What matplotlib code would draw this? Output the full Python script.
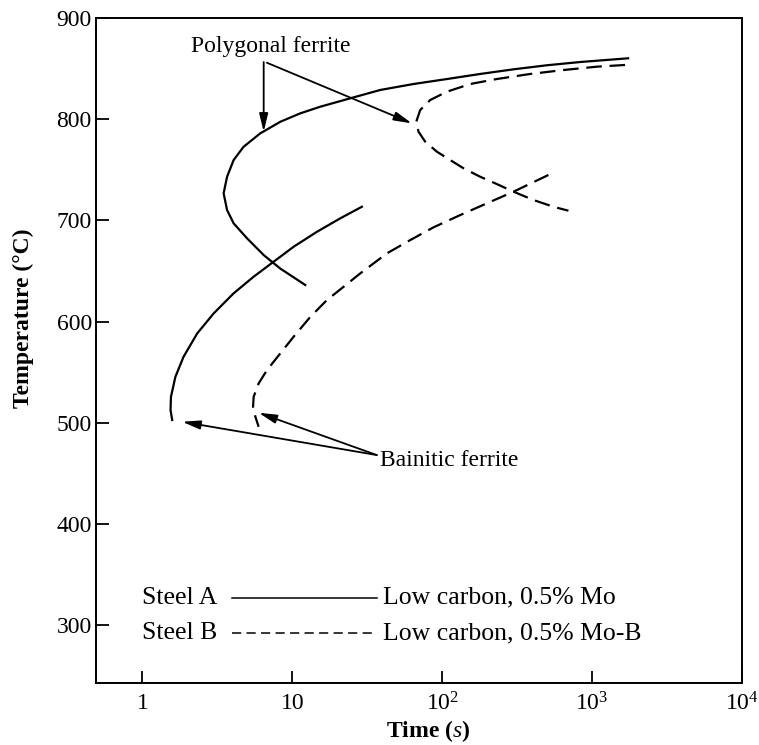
import numpy as np
import matplotlib
matplotlib.use("Agg")
import matplotlib.pyplot as plt
from matplotlib.lines import Line2D

plt.rcParams['font.family'] = ['Liberation Serif', 'DejaVu Serif']
plt.rcParams['mathtext.fontset'] = 'custom'
plt.rcParams['mathtext.rm'] = 'Liberation Serif'
plt.rcParams['mathtext.it'] = 'Liberation Serif:italic'

# === Data (time in s, temperature in degC) ===
# Steel A, polygonal ferrite start curve
ferrite_a_time = [1738, 832, 499, 299, 179, 107.5, 64.4, 38.6, 24.4, 15.4, 11.3, 8.32,
                  6.12, 4.73, 4.06, 3.67, 3.48, 3.67, 4.06, 4.99, 6.44, 8.32, 10.2, 12.2]
ferrite_a_temp = [860.2, 856.5, 853.3, 849.3, 844.7, 839.7, 834.8, 828.9, 820.7, 812.4,
                  805.8, 797.5, 786.1, 772.8, 759.7, 743.2, 726.8, 710.3, 697.1, 682.3,
                  665.8, 652.4, 643.8, 636.2]
# Steel A, bainitic ferrite start curve
bainite_a_time = [29.1, 20.9, 14.6, 10.2, 7.5, 5.52, 4.06, 2.99, 2.32, 1.88, 1.66,
                  1.55, 1.54, 1.58]
bainite_a_temp = [713.5, 702.1, 688.8, 674.0, 659.2, 644.4, 628.0, 608.2, 588.4, 565.3,
                  545.6, 525.8, 512.6, 502.8]
# Steel B, polygonal ferrite start curve
ferrite_b_time = [1660, 1075, 644, 386, 231, 154, 107.5, 83.2, 71.3, 67.1, 69.5, 77.0,
                  92.2, 113, 138.7, 179, 231, 299, 406, 552, 695]
ferrite_b_temp = [853.6, 851.9, 848.6, 844.7, 839.7, 834.8, 827.2, 819.0, 809.1, 797.5,
                  787.6, 777.8, 767.9, 759.7, 751.5, 743.2, 736.0, 728.4, 720.2, 713.5,
                  709.6]
# Steel B, bainitic ferrite start curve
bainite_b_time = [511, 299, 198.6, 131.8, 87.5, 61.2, 42.8, 28.4, 22.0, 17.0, 13.2,
                  10.2, 8.32, 6.78, 5.96, 5.52, 5.47, 5.67, 5.96]
bainite_b_temp = [744.9, 728.4, 716.9, 705.3, 693.2, 680.6, 667.5, 647.7, 634.5, 621.3,
                  604.8, 585.1, 568.7, 552.2, 539.0, 525.8, 515.9, 506.0, 496.1]

steel_names = ['Steel A', 'Steel B']
steel_desc = ['Low carbon, 0.5% Mo', 'Low carbon, 0.5% Mo-B']

x_ticks = [1, 10, 100, 1000, 10000]
x_tick_labels = ['1', '10', '$10^2$', '$10^3$', '$10^4$']
y_ticks = [300, 400, 500, 600, 700, 800, 900]

fig = plt.figure(figsize=(7.59, 7.45), dpi=100)
ax = fig.add_axes([96 / 759, 62 / 745, 646 / 759, 665 / 745])

dash = (0, (7, 3.5))
ax.plot(ferrite_a_time, ferrite_a_temp, color='black', lw=1.6)
ax.plot(bainite_a_time, bainite_a_temp, color='black', lw=1.6)
ax.plot(ferrite_b_time, ferrite_b_temp, color='black', lw=1.6, linestyle=dash)
ax.plot(bainite_b_time, bainite_b_temp, color='black', lw=1.6, linestyle=dash)

ax.set_xscale('log')
ax.set_xlim(0.49, 1e4)
ax.set_ylim(243, 900)
ax.set_xticks(x_ticks)
ax.set_xticklabels(x_tick_labels)
ax.xaxis.set_minor_locator(matplotlib.ticker.NullLocator())
ax.set_yticks(y_ticks)
ax.tick_params(axis='both', direction='in', length=9, width=1.3, labelsize=17)
ax.tick_params(axis='y', pad=3)
ax.tick_params(axis='x', pad=7)
for sp in ax.spines.values():
    sp.set_linewidth(1.4)

ax.set_xlabel('Time ($\\it{s}$)', fontsize=17, fontweight='bold')
ax.xaxis.set_label_coords(0.514, -0.052)
ax.set_ylabel('Temperature (\u00b0C)', fontsize=17, fontweight='bold')
ax.yaxis.set_label_coords(-0.096, 0.549)

# annotations
arrow = dict(arrowstyle='-|>,head_length=0.9,head_width=0.22', color='black', lw=1.3,
             mutation_scale=12, shrinkA=0, shrinkB=0)
ax.text(7.13, 871.6, 'Polygonal ferrite', fontsize=17, ha='center', va='center')
ax.annotate('', xy=(6.44, 787.6), xytext=(6.44, 856.5), arrowprops=arrow)
ax.annotate('', xy=(62.8, 795.9), xytext=(6.77, 855.8), arrowprops=arrow)

ax.text(38.6, 463.2, 'Bainitic ferrite', fontsize=17, ha='left', va='center')
ax.annotate('', xy=(1.84, 501.1), xytext=(36.6, 468.2), arrowprops=arrow)
ax.annotate('', xy=(5.96, 510.0), xytext=(36.6, 468.2), arrowprops=arrow)

# legend drawn by hand in axes fraction
leg_y = [0.128, 0.075]
leg_styles = ['-', (0, (6, 3.5))]
for i in range(2):
    ax.text(0.071, leg_y[i], steel_names[i], transform=ax.transAxes,
            fontsize=18.5, ha='left', va='center')
    ax.add_line(Line2D([0.2105, 0.435], [leg_y[i], leg_y[i]], transform=ax.transAxes,
                       color='black', lw=1.1, linestyle=leg_styles[i]))
    ax.text(0.444, leg_y[i], steel_desc[i], transform=ax.transAxes,
            fontsize=18.5, ha='left', va='center')

fig.savefig('out.png', dpi=100)
